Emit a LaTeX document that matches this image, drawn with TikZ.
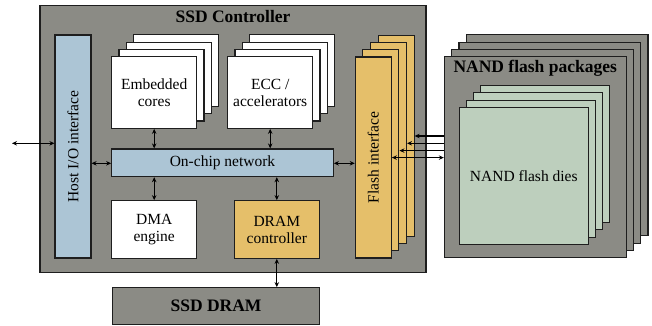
\documentclass[tikz,border=0pt]{standalone}
\usepackage{fontspec}
\setmainfont{Liberation Serif}
\usetikzlibrary{arrows.meta,calc}

\definecolor{chipgray}{RGB}{139,139,133}
\definecolor{ifblue}{RGB}{172,197,213}
\definecolor{dramorange}{RGB}{229,191,106}
\definecolor{diegreen}{RGB}{189,207,189}
\definecolor{edge}{RGB}{30,30,30}

\tikzset{
  blk/.style={draw=edge, line width=1.1pt, inner sep=0pt, align=center,
              font=\fontsize{15.5}{17}\selectfont},
  graybox/.style={blk, fill=chipgray},
  bluebox/.style={blk, fill=ifblue},
  orangebox/.style={blk, fill=dramorange},
  whitebox/.style={blk, fill=white},
  greenbox/.style={blk, fill=diegreen},
  title/.style={font=\fontsize{17.5}{19}\selectfont\bfseries, inner sep=0pt},
  link/.style={line width=1.1pt, draw=black, {Stealth[length=5pt,width=4.5pt]}-{Stealth[length=5pt,width=4.5pt]}},
  linkin/.style={line width=1.1pt, draw=black, {Stealth[length=5pt,width=4.5pt]}-},
}

\begin{document}
\begin{tikzpicture}[x=1pt,y=-1pt]
\useasboundingbox (0,0) rectangle (652,326);

% controller chip
\node[graybox, minimum width=386pt, minimum height=266.7pt] (ctrl) at (233,139.3) {};
\node[title] (ctrltitle) at (233,17) {SSD Controller};

% host interface
\node[bluebox, minimum width=36pt, minimum height=223pt] (host) at (73,146.5)
  {\rotatebox{90}{Host I/O interface}};

% embedded cores (stack of four)
\foreach \k in {3,2,1}
  \node[whitebox, minimum width=85pt, minimum height=71.6pt] (cores\k) at ($(154.2,92.5)+(\k*7.3,-\k*7.3)$) {};
\node[whitebox, minimum width=85pt, minimum height=71.6pt] (cores) at (154.2,92.5) {Embedded\\cores};

% accelerators (stack of four)
\foreach \k in {3,2,1}
  \node[whitebox, minimum width=85pt, minimum height=71.6pt] (ecc\k) at ($(270.2,92.5)+(\k*7.3,-\k*7.3)$) {};
\node[whitebox, minimum width=85pt, minimum height=71.6pt] (ecc) at (270.2,92.5) {ECC /\\accelerators};

% on-chip network
\node[bluebox, minimum width=221.6pt, minimum height=27.7pt] (noc) at (222.5,162.8) {On-chip network};

% DMA and DRAM controller
\node[whitebox, minimum width=85pt, minimum height=57.6pt] (dma) at (154.2,229.5) {DMA\\engine};
\node[orangebox, minimum width=85pt, minimum height=57.6pt] (dramc) at (276.8,229.5) {DRAM\\controller};

% flash interface (stack of four)
\foreach \k in {3,2,1}
  \node[orangebox, minimum width=36pt, minimum height=201pt] (fl\k) at ($(373.3,157.5)+(\k*7.6,-\k*7.3)$) {};
\node[orangebox, minimum width=36pt, minimum height=201pt] (fl0) at (373.3,157.5)
  {\rotatebox{90}{Flash interface}};

% SSD DRAM
\node[graybox, minimum width=206.6pt, minimum height=36.6pt] (dram) at (216,306) {};
\node[title] (dramtitle) at (dram.center) {SSD DRAM};

% NAND flash packages (stack of four)
\foreach \k in {3,2,1}
  \node[graybox, minimum width=181.7pt, minimum height=201pt] (pkg\k) at ($(535.2,157.2)+(\k*7.3,-\k*7.3)$) {};
\node[graybox, minimum width=181.7pt, minimum height=201pt] (pkg0) at (535.2,157.2) {};
\node[title] (pkgtitle) at (535.2,68.5) {NAND flash packages};

% NAND flash dies (stack of four)
\foreach \k in {3,2,1}
  \node[greenbox, minimum width=129pt, minimum height=137pt] (die\k) at ($(523.8,175.8)+(\k*7,-\k*7.2)$) {};
\node[greenbox, minimum width=129pt, minimum height=137pt] (die0) at (523.8,175.8) {NAND flash dies};

% connectors
\coordinate (hostext) at (12,143.3);
\draw[link] (hostext) -- (host.west |- hostext);
\draw[link] (host.east |- 0,163.3) -- (noc.west |- 0,163.3);
\draw[link] (noc.east |- 0,163.3) -- (fl0.west |- 0,163.3);
\draw[link] (cores.south) -- (cores.south |- noc.north);
\draw[link] (ecc.south) -- (ecc.south |- noc.north);
\draw[link] (noc.south -| dma.north) -- (dma.north);
\draw[link] (noc.south -| dramc.north) -- (dramc.north);
\draw[link] (dramc.south) -- (dramc.south |- dram.north);

% channels between flash interface and packages
\draw[linkin] (fl3.east |- 0,136) -- (pkg0.west |- 0,136);
\draw[linkin] (fl2.east |- 0,143.3) -- (pkg0.west |- 0,143.3);
\draw[linkin] (fl1.east |- 0,150.6) -- (pkg0.west |- 0,150.6);
\draw[link] (fl0.east |- 0,157.6) -- (pkg0.west |- 0,157.6);
\end{tikzpicture}
\end{document}
